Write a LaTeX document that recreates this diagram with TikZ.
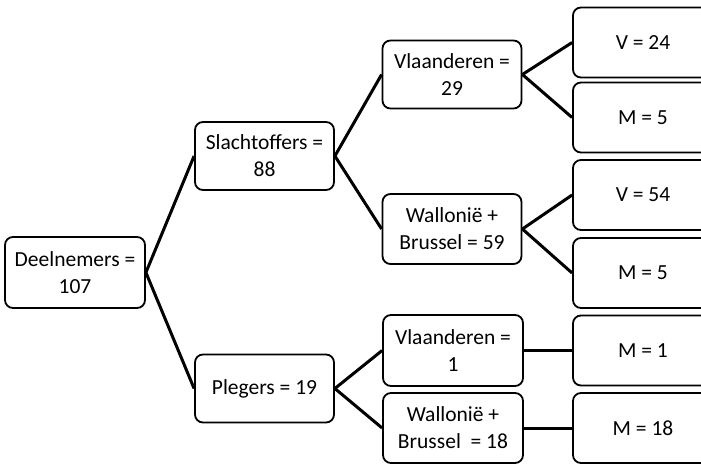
\documentclass[tikz,border=0pt]{standalone}
\usepackage{fontspec}
\setmainfont{Carlito}
\usepackage{tikz}
\usetikzlibrary{positioning}
\tikzset{
    box/.style={draw, line width=1.8pt, rounded corners=8pt, align=center,
        minimum width=139pt, minimum height=68pt, inner sep=2pt,
        font=\fontsize{21.5}{27}\selectfont},
    link/.style={line width=3pt}
}

\begin{document}
\begin{tikzpicture}[x=1pt,y=-1pt]
\useasboundingbox (0,0) rectangle (701,464);
\clip (0,0) rectangle (701,464);
% left side of the tree
\node[box, minimum width=140pt, minimum height=71pt] (deel) at (75,272.5) {Deelnemers =\\107};
\node[box] (slacht) at (264.5,156) {Slachtoffers =\\88};
\node[box] (pleg) at (264.5,388.5) {Plegers = 19};
% regions
\node[box] (vl29) at (452,74.5) {Vlaanderen =\\29};
\node[box, minimum height=70pt] (wb59) at (452,229) {Wallonië +\\Brussel = 59};
\node[box, minimum width=140pt, minimum height=71pt] (vl1) at (453,350.5) {Vlaanderen =\\1};
\node[box, minimum width=140pt, minimum height=70pt] (wb18) at (453,428) {Wallonië +\\Brussel~ = 18};
% gender boxes, cut off at the right edge
\foreach \name/\y/\txt in {v24/42.5/V = 24, m5a/117.5/M = 5, v54/195/V = 54, m5b/273/M = 5, m1/350.5/M = 1, m18/428/M = 18}{
    \node[box, minimum width=140pt, minimum height=70pt] (\name) at (643,\y) {\txt};
}
\draw[link] (deel.east) -- (slacht.west);
\draw[link] (deel.east) -- (pleg.west);
\draw[link] (slacht.east) -- (vl29.west);
\draw[link] (slacht.east) -- (wb59.west);
\draw[link] (pleg.east) -- (vl1.west);
\draw[link] (pleg.east) -- (wb18.west);
\foreach \from/\to in {vl29/v24, vl29/m5a, wb59/v54, wb59/m5b, vl1/m1, wb18/m18}{
    \draw[link] (\from.east) -- (\to.west);
}
\end{tikzpicture}
\end{document}
